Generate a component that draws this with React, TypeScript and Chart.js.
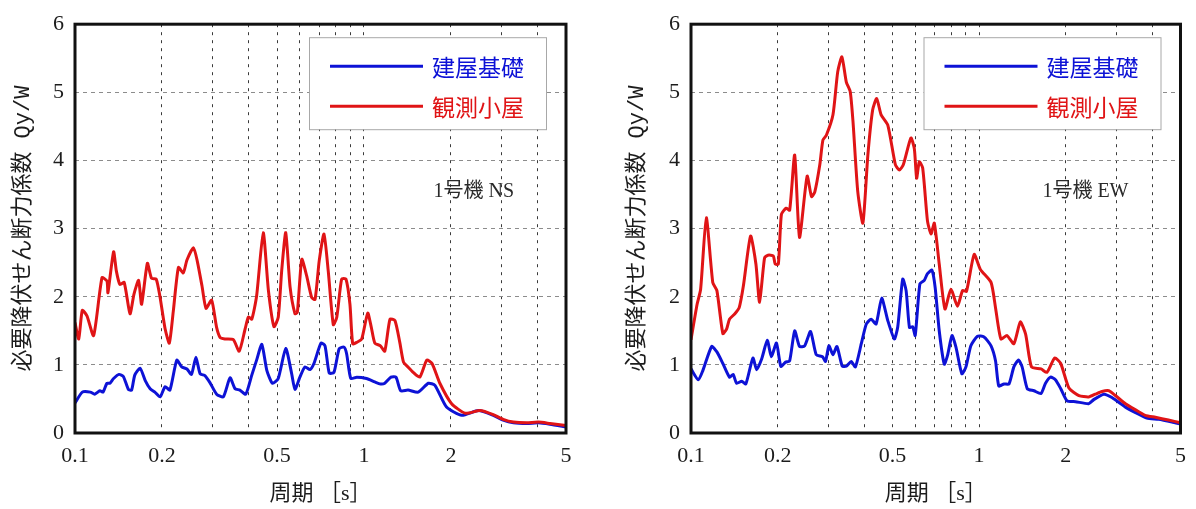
import { useEffect, useRef } from "react";
import { Chart, registerables } from "chart.js";

Chart.register(...registerables);

// Axis ranges and ticks
const PERIOD_MIN = 0.1;
const PERIOD_MAX = 5;
const Q_MIN = 0;
const Q_MAX = 6;
const PERIOD_GRID = [0.1, 0.2, 0.3, 0.4, 0.5, 0.6, 0.7, 0.8, 0.9, 1, 2, 3, 4, 5];
const PERIOD_LABELS = [0.1, 0.2, 0.5, 1, 2, 5];
const Q_TICKS = [0, 1, 2, 3, 4, 5, 6];

const SERIES_NAMES = ["建屋基礎", "観測小屋"];
const SERIES_COLORS = ["#0d12d6", "#e01416"];
const PANEL_TAGS = ["1号機 NS", "1号機 EW"];
const X_TITLE = "周期 ［s］";
const Y_TITLE = "必要降伏せん断力係数 Qy/W";

// 1号機 NS — 建屋基礎
const NS_BASE_PERIOD = [
  0.100, 0.106, 0.113, 0.117, 0.122, 0.125, 0.129, 0.132, 0.136, 0.142,
  0.147, 0.153, 0.157, 0.161, 0.168, 0.175, 0.182, 0.189, 0.197, 0.205,
  0.213, 0.225, 0.234, 0.244, 0.253, 0.262, 0.271, 0.282, 0.293, 0.309,
  0.326, 0.344, 0.358, 0.372, 0.390, 0.409, 0.425, 0.443, 0.461, 0.482,
  0.505, 0.536, 0.562, 0.577, 0.600, 0.625, 0.650, 0.671, 0.710, 0.733,
  0.758, 0.787, 0.821, 0.853, 0.871, 0.900, 0.944, 1.02, 1.09, 1.14,
  1.18, 1.24, 1.29, 1.34, 1.42, 1.54, 1.67, 1.76, 1.93, 2.18,
  2.49, 2.80, 3.03, 3.29, 3.66, 4.01, 4.40, 5.00,
];
const NS_BASE_Q = [
  0.44, 0.60, 0.60, 0.57, 0.62, 0.60, 0.73, 0.73, 0.80, 0.86,
  0.83, 0.64, 0.63, 0.85, 0.95, 0.77, 0.65, 0.60, 0.53, 0.68,
  0.63, 1.07, 0.97, 0.94, 0.86, 1.11, 0.87, 0.84, 0.74, 0.57,
  0.53, 0.81, 0.65, 0.63, 0.57, 0.85, 1.07, 1.30, 0.92, 0.73,
  0.80, 1.24, 0.87, 0.64, 0.82, 0.97, 0.93, 1.02, 1.32, 1.28,
  0.88, 0.89, 1.24, 1.26, 1.16, 0.80, 0.82, 0.80, 0.75, 0.72,
  0.73, 0.82, 0.82, 0.62, 0.63, 0.60, 0.73, 0.70, 0.38, 0.26,
  0.33, 0.26, 0.19, 0.15, 0.14, 0.15, 0.13, 0.09,
];

// 1号機 NS — 観測小屋
const NS_HUT_PERIOD = [
  0.100, 0.103, 0.106, 0.110, 0.116, 0.124, 0.129, 0.130, 0.136, 0.139,
  0.143, 0.148, 0.155, 0.160, 0.166, 0.170, 0.178, 0.184, 0.191, 0.197,
  0.205, 0.212, 0.219, 0.228, 0.237, 0.244, 0.257, 0.265, 0.275, 0.284,
  0.297, 0.309, 0.318, 0.330, 0.353, 0.370, 0.388, 0.398, 0.409, 0.425,
  0.448, 0.467, 0.488, 0.505, 0.519, 0.536, 0.555, 0.577, 0.588, 0.609,
  0.633, 0.659, 0.677, 0.700, 0.727, 0.752, 0.783, 0.805, 0.837, 0.866,
  0.894, 0.914, 0.944, 0.982, 1.03, 1.06, 1.09, 1.14, 1.18, 1.23,
  1.28, 1.33, 1.37, 1.42, 1.48, 1.56, 1.65, 1.72, 1.83, 2.01,
  2.24, 2.52, 2.80, 3.03, 3.29, 3.66, 4.01, 4.40, 5.00,
];
const NS_HUT_Q = [
  1.62, 1.38, 1.80, 1.72, 1.43, 2.28, 2.23, 2.06, 2.66, 2.38,
  2.18, 2.21, 1.75, 2.04, 2.24, 1.89, 2.49, 2.27, 2.26, 1.99,
  1.53, 1.32, 1.80, 2.43, 2.35, 2.54, 2.72, 2.52, 2.16, 1.83,
  1.95, 1.55, 1.40, 1.38, 1.37, 1.20, 1.53, 1.70, 1.67, 2.01,
  2.94, 2.09, 1.56, 1.70, 2.38, 2.94, 2.14, 1.75, 1.77, 2.55,
  2.31, 1.99, 1.96, 2.53, 2.92, 2.38, 1.59, 1.70, 2.26, 2.26,
  1.89, 1.31, 1.33, 1.38, 1.76, 1.55, 1.32, 1.28, 1.20, 1.67,
  1.65, 1.33, 1.04, 0.97, 0.89, 0.82, 1.07, 1.02, 0.73, 0.43,
  0.29, 0.33, 0.27, 0.20, 0.16, 0.15, 0.16, 0.14, 0.11,
];

// 1号機 EW — 建屋基礎
const EW_BASE_PERIOD = [
  0.100, 0.106, 0.110, 0.118, 0.123, 0.129, 0.136, 0.140, 0.144, 0.150,
  0.155, 0.164, 0.169, 0.176, 0.184, 0.190, 0.198, 0.205, 0.213, 0.220,
  0.229, 0.238, 0.248, 0.260, 0.272, 0.286, 0.293, 0.301, 0.311, 0.321,
  0.335, 0.346, 0.360, 0.372, 0.390, 0.406, 0.422, 0.439, 0.459, 0.482,
  0.508, 0.522, 0.543, 0.558, 0.573, 0.588, 0.600, 0.623, 0.645, 0.662,
  0.686, 0.704, 0.727, 0.757, 0.777, 0.805, 0.831, 0.871, 0.900, 0.936,
  0.987, 1.04, 1.10, 1.14, 1.17, 1.22, 1.27, 1.32, 1.37, 1.41,
  1.47, 1.55, 1.64, 1.70, 1.77, 1.84, 1.92, 2.02, 2.16, 2.40,
  2.50, 2.71, 2.89, 3.22, 3.49, 3.82, 4.20, 4.67, 5.00,
];
const EW_BASE_Q = [
  0.94, 0.78, 0.92, 1.27, 1.19, 1.02, 0.82, 0.86, 0.73, 0.76,
  0.72, 1.10, 0.93, 1.09, 1.36, 1.12, 1.32, 0.98, 1.04, 1.06,
  1.50, 1.27, 1.28, 1.49, 1.15, 1.12, 1.05, 1.28, 1.15, 1.27,
  0.98, 0.98, 1.05, 0.97, 1.31, 1.60, 1.67, 1.60, 1.98, 1.65,
  1.38, 1.56, 2.26, 2.09, 1.55, 1.56, 1.43, 2.19, 2.24, 2.34,
  2.39, 2.13, 1.50, 1.01, 1.14, 1.43, 1.26, 0.87, 0.97, 1.28,
  1.42, 1.41, 1.28, 1.06, 0.69, 0.72, 0.72, 0.97, 1.07, 0.97,
  0.65, 0.62, 0.58, 0.73, 0.82, 0.78, 0.65, 0.47, 0.46, 0.43,
  0.49, 0.57, 0.52, 0.38, 0.30, 0.22, 0.20, 0.16, 0.13,
];

// 1号機 EW — 観測小屋
const EW_HUT_PERIOD = [
  0.100, 0.105, 0.108, 0.113, 0.119, 0.123, 0.129, 0.133, 0.136, 0.142,
  0.147, 0.152, 0.161, 0.168, 0.173, 0.180, 0.185, 0.193, 0.196, 0.201,
  0.206, 0.214, 0.220, 0.229, 0.238, 0.253, 0.262, 0.269, 0.280, 0.287,
  0.295, 0.311, 0.323, 0.334, 0.346, 0.357, 0.365, 0.379, 0.395, 0.411,
  0.427, 0.441, 0.457, 0.482, 0.512, 0.529, 0.546, 0.580, 0.596, 0.607,
  0.620, 0.637, 0.662, 0.681, 0.699, 0.727, 0.761, 0.798, 0.841, 0.876,
  0.904, 0.961, 1.01, 1.10, 1.14, 1.19, 1.25, 1.32, 1.39, 1.45,
  1.52, 1.64, 1.72, 1.83, 1.92, 2.05, 2.22, 2.40, 2.53, 2.67,
  2.82, 2.97, 3.22, 3.49, 3.77, 4.09, 4.54, 5.00,
];
const EW_HUT_Q = [
  1.37, 1.89, 2.11, 3.16, 2.21, 2.09, 1.46, 1.53, 1.67, 1.75,
  1.84, 2.16, 2.89, 2.48, 1.92, 2.57, 2.61, 2.60, 2.48, 2.48,
  3.21, 3.30, 3.27, 4.08, 2.87, 3.77, 3.47, 3.54, 3.94, 4.30,
  4.37, 4.67, 5.30, 5.52, 5.15, 5.01, 4.57, 3.55, 3.08, 4.08,
  4.74, 4.91, 4.67, 4.52, 3.94, 3.86, 3.94, 4.33, 4.17, 3.74,
  3.98, 3.89, 3.11, 2.92, 3.08, 2.48, 1.82, 2.11, 1.86, 2.09,
  2.08, 2.62, 2.40, 2.21, 1.84, 1.38, 1.43, 1.31, 1.63, 1.45,
  0.97, 0.94, 0.89, 1.10, 1.02, 0.66, 0.55, 0.53, 0.57, 0.61,
  0.62, 0.55, 0.43, 0.34, 0.26, 0.23, 0.19, 0.15,
];

const TEXT_COLOR = "#1c1c1c";
const SERIF = "'Liberation Serif', 'Noto Sans CJK JP'";
const CJK = "'Noto Sans CJK JP'";

const toPoints = (xs: number[], ys: number[]) => xs.map((x, i) => ({ x, y: ys[i] }));

type PanelProps = {
  tag: string;
  basePeriod: number[];
  baseQ: number[];
  hutPeriod: number[];
  hutQ: number[];
  width: number;
  left: number;
  axisWidth: number;
  rightPad: number;
  yTitlePad: number;
};

// Draws the heavy plot frame, the boxed legend and the panel tag.
const framePlugin = {
  id: "frameLegendTag",
  afterDraw(chart: any) {
    const { ctx, chartArea } = chart;
    const { left, top, right, bottom } = chartArea;
    const tag = chart.options.plugins.frameLegendTag.tag as string;
    ctx.save();

    // legend box
    const boxW = 237;
    const boxH = 92;
    const bx = right - 20 - boxW;
    const by = top + 13;
    ctx.fillStyle = "#ffffff";
    ctx.fillRect(bx, by, boxW, boxH);
    ctx.strokeStyle = "#a8a8a8";
    ctx.lineWidth = 1;
    ctx.strokeRect(bx + 0.5, by + 0.5, boxW, boxH);
    SERIES_NAMES.forEach((name, i) => {
      const ry = by + 29 + i * 40;
      ctx.strokeStyle = SERIES_COLORS[i];
      ctx.lineWidth = 3;
      ctx.beginPath();
      ctx.moveTo(bx + 21, ry);
      ctx.lineTo(bx + 114, ry);
      ctx.stroke();
      ctx.fillStyle = SERIES_COLORS[i];
      ctx.font = `23px ${CJK}`;
      ctx.textAlign = "left";
      ctx.textBaseline = "middle";
      ctx.fillText(name, bx + 123, ry + 1);
    });

    // panel tag
    ctx.fillStyle = "#2a2a2a";
    ctx.font = `20px ${SERIF}`;
    ctx.textAlign = "right";
    ctx.textBaseline = "middle";
    ctx.fillText(tag, right - 52, top + 168);

    // frame
    ctx.strokeStyle = "#111111";
    ctx.lineWidth = 3;
    ctx.strokeRect(left, top, right - left, bottom - top);
    ctx.restore();
  },
};

function Panel(props: PanelProps) {
  const ref = useRef<HTMLCanvasElement | null>(null);

  useEffect(() => {
    if (!ref.current) return;
    const chart = new Chart(ref.current, {
      type: "line",
      data: {
        datasets: [
          {
            label: SERIES_NAMES[0],
            data: toPoints(props.basePeriod, props.baseQ),
            borderColor: SERIES_COLORS[0],
            backgroundColor: SERIES_COLORS[0],
            borderWidth: 3,
            pointRadius: 0,
            tension: 0.2,
            fill: false,
            order: 1,
          },
          {
            label: SERIES_NAMES[1],
            data: toPoints(props.hutPeriod, props.hutQ),
            borderColor: SERIES_COLORS[1],
            backgroundColor: SERIES_COLORS[1],
            borderWidth: 3,
            pointRadius: 0,
            tension: 0.2,
            fill: false,
            order: 0,
          },
        ],
      },
      options: {
        animation: false,
        responsive: false,
        maintainAspectRatio: false,
        events: [],
        layout: { padding: { top: 22, right: props.rightPad, bottom: 0, left: 0 } },
        plugins: {
          legend: { display: false },
          tooltip: { enabled: false },
          frameLegendTag: { tag: props.tag },
        } as any,
        scales: {
          x: {
            type: "logarithmic",
            min: PERIOD_MIN,
            max: PERIOD_MAX,
            afterBuildTicks: (s: any) => {
              s.ticks = PERIOD_GRID.map((v) => ({ value: v }));
            },
            afterFit: (s: any) => {
              s.height = 76;
            },
            ticks: {
              autoSkip: false,
              maxRotation: 0,
              padding: 10,
              color: TEXT_COLOR,
              font: { family: SERIF, size: 22 },
              callback: (v: any) => (PERIOD_LABELS.includes(Number(v)) ? String(v) : ""),
            },
            grid: { color: "#3a3a3a", lineWidth: 1, drawTicks: false },
            border: { display: false, dash: [3, 5] },
            title: {
              display: true,
              text: X_TITLE,
              color: TEXT_COLOR,
              font: { family: SERIF, size: 22 },
              padding: { top: 0, bottom: 2 },
            },
          },
          y: {
            min: Q_MIN,
            max: Q_MAX,
            afterBuildTicks: (s: any) => {
              s.ticks = Q_TICKS.map((v) => ({ value: v }));
            },
            afterFit: (s: any) => {
              s.width = props.axisWidth;
            },
            ticks: {
              padding: 11,
              color: TEXT_COLOR,
              font: { family: SERIF, size: 22 },
            },
            grid: { color: "#8c8c8c", lineWidth: 1, drawTicks: false },
            border: { display: false, dash: [4, 4] },
            title: {
              display: true,
              text: Y_TITLE,
              color: TEXT_COLOR,
              font: { family: `'Liberation Mono', ${CJK}`, size: 22 },
              padding: { top: props.yTitlePad, bottom: 0 },
            },
          },
        },
      } as any,
      plugins: [framePlugin],
    });
    return () => chart.destroy();
  }, []);

  return (
    <canvas
      ref={ref}
      width={props.width}
      height={509}
      style={{ position: "absolute", left: props.left, top: 0, width: props.width, height: 509 }}
    />
  );
}

export default function App() {
  return (
    <div
      style={{
        position: "fixed",
        left: 0,
        top: 0,
        width: 1196,
        height: 509,
        background: "#ffffff",
        overflow: "hidden",
      }}
    >
      <Panel
        tag={PANEL_TAGS[0]}
        basePeriod={NS_BASE_PERIOD}
        baseQ={NS_BASE_Q}
        hutPeriod={NS_HUT_PERIOD}
        hutQ={NS_HUT_Q}
        width={600}
        left={0}
        axisWidth={75}
        rightPad={34}
        yTitlePad={10}
      />
      <Panel
        tag={PANEL_TAGS[1]}
        basePeriod={EW_BASE_PERIOD}
        baseQ={EW_BASE_Q}
        hutPeriod={EW_HUT_PERIOD}
        hutQ={EW_HUT_Q}
        width={596}
        left={600}
        axisWidth={91}
        rightPad={14}
        yTitlePad={24}
      />
    </div>
  );
}
